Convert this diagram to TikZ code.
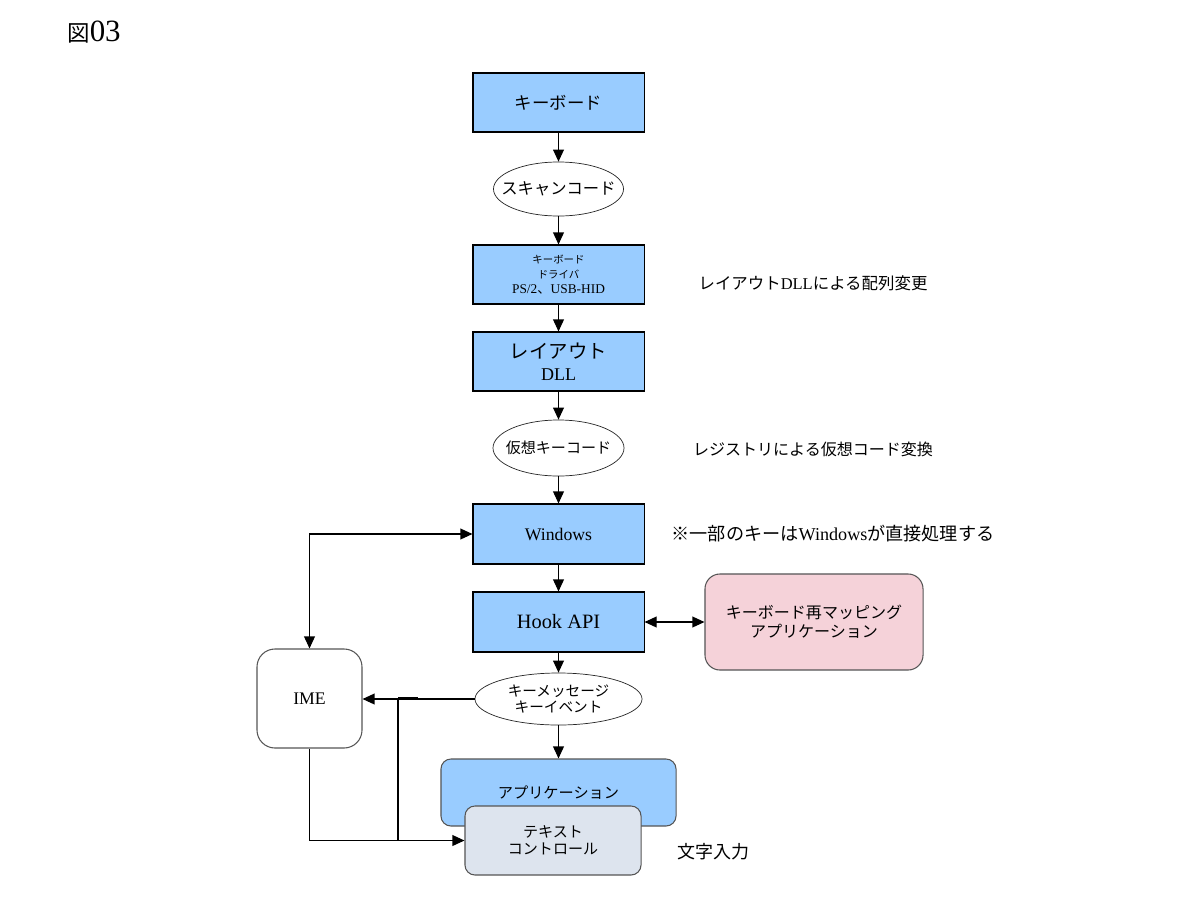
\documentclass[tikz,border=0pt]{standalone}
\usepackage{fontspec}
\setmainfont{Liberation Serif}
\newfontfamily\jp{Noto Sans CJK JP}
\usetikzlibrary{arrows.meta,shapes.geometric}
\newcommand\J[1]{{\jp #1}}
\newcommand\fs[2]{\fontsize{#1}{#2}\selectfont}
\newcommand\zw[1]{\makebox[0pt]{#1}}
\definecolor{boxblue}{HTML}{99CCFF}
\definecolor{tcgray}{HTML}{DDE4EE}
\definecolor{pinkbox}{HTML}{F5D2D9}
\definecolor{edgegray}{HTML}{555555}
\begin{document}
\begin{tikzpicture}[x=0.025cm,y=-0.025cm,
  flow/.style={rectangle,draw=black,line width=0.75pt,fill=boxblue,minimum width=4.275cm,inner sep=0pt,align=center},
  oval/.style={ellipse,draw=black!85,line width=0.5pt,fill=white,inner sep=0pt,align=center},
  rbox/.style={rectangle,draw=edgegray,line width=0.75pt,inner sep=0pt,align=center},
  tipA/.style={-{Triangle[length=0.3cm,width=0.27cm]}},
  conn/.style={line width=0.8pt,tipA},
  dconn/.style={line width=0.8pt,{Triangle[length=0.3cm,width=0.27cm]}-{Triangle[length=0.3cm,width=0.27cm]}},
  plain/.style={line width=0.8pt},
  lbl/.style={inner sep=0pt,align=center}]
\useasboundingbox (0,0) rectangle (1200,900);

% title
\node[lbl,anchor=base west] (title) at (67,41.5) {{\fs{16}{18}\J{図}}{\fs{22}{24}03}};

% main column
\node[flow,minimum height=1.475cm,font=\fs{12.4}{14}] (kb) at (558.5,102.5) {\J{キーボード}};
\node[oval,minimum width=3.25cm,minimum height=1.35cm,font=\fs{11.6}{13}] (scan) at (558.5,189) {\zw{\J{スキャンコード}}};
\node[flow,minimum height=1.475cm,font=\fs{7.4}{10.7}] (drv) at (558.5,274.5)
  {\fs{7.4}{10.7}\J{キーボード}\\\fs{7.4}{10.7}\J{ドライバ}\\\fs{9.5}{10.7}PS/2\J{、}USB-HID};
\node[flow,minimum height=1.475cm,font=\fs{13.8}{15.6}] (lay) at (558.5,361.5)
  {\fs{13.8}{15.6}\J{レイアウト}\\\fs{12.8}{15.6}DLL};
\node[oval,minimum width=3.275cm,minimum height=1.4cm,font=\fs{10.7}{12}] (vk) at (558.5,448) {\zw{\J{仮想キーコード}}};
\node[flow,minimum height=1.5cm,font=\fs{12.6}{14}] (win) at (558.5,534) {Windows};
\node[flow,minimum height=1.5cm,font=\fs{14.5}{16}] (hook) at (558.5,622) {Hook API};
\node[rbox,fill=pinkbox,rounded corners=0.375cm,minimum width=5.45cm,minimum height=2.4cm,font=\fs{11.4}{13.5}] (remap) at (814,622)
  {\J{キーボード再マッピング}\\\J{アプリケーション}};
\node[rbox,fill=white,rounded corners=0.45cm,minimum width=2.625cm,minimum height=2.475cm,font=\fs{12.6}{14}] (ime) at (309.5,698.5) {IME};
\node[oval,minimum width=4.175cm,minimum height=1.3cm,font=\fs{10.4}{10.7}] (ev) at (558.5,699)
  {\zw{\J{キーメッセージ}}\\\zw{\J{キーイベント}}};
\node[rbox,fill=boxblue,rounded corners=0.25cm,minimum width=5.875cm,minimum height=1.675cm,font=\fs{10.8}{12}] (app) at (558.5,792.5) {\J{アプリケーション}};
\node[rbox,fill=tcgray,rounded corners=0.25cm,minimum width=4.4cm,minimum height=1.725cm,font=\fs{10.7}{12}] (tc) at (553,840.5)
  {\J{テキスト}\\\J{コントロール}};

% side labels
\node[lbl,font=\fs{11.7}{13}] (l1) at (813,283) {\J{レイアウト}DLL\J{による配列変更}};
\node[lbl,font=\fs{11.4}{13}] (l2) at (813,449) {\J{レジストリによる仮想コード変換}};
\node[lbl,font=\fs{12.9}{14}] (l3) at (833,534) {\J{※一部のキーは}Windows\J{が直接処理する}};
\node[lbl,font=\fs{12.8}{14}] (l4) at (713,852) {\J{文字入力}};

% connectors
\draw[conn] (kb) -- (scan);
\draw[conn] (scan) -- (drv);
\draw[conn] (drv) -- (lay);
\draw[conn] (lay) -- (vk);
\draw[conn] (vk) -- (win);
\draw[conn] (win) -- (hook);
\draw[conn] (hook) -- (ev);
\draw[conn] (ev) -- (app);
\draw[dconn] (hook) -- (remap);
\draw[dconn] (win.west) -| (ime.north);
\draw[conn] (ev.west) -- (ev.west -| ime.east);
\coordinate (j) at (398,699);
\coordinate (js) at (418,698.4);
\draw[line width=1.5pt] (j |- js) -- (js);
\draw[plain] (j) -- (j |- tc.west);
\draw[conn] (ime.south) |- (tc.west);
\end{tikzpicture}
\end{document}
